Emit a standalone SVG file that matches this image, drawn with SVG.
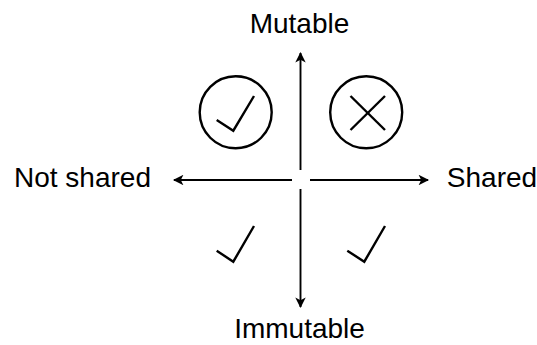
<svg xmlns="http://www.w3.org/2000/svg" width="537" height="345" viewBox="0 0 537 345">
<style>
.lbl{font-family:"Liberation Sans",Arial,sans-serif;font-size:28px;fill:#000;text-anchor:middle}
.ln{stroke:#000;stroke-width:1.9;fill:none}
.mk{stroke:#000;stroke-width:2.4;fill:none;stroke-linecap:butt;stroke-linejoin:miter}
</style>
<defs>
<marker id="ah" viewBox="0 0 10 10" refX="9" refY="5" markerWidth="6" markerHeight="5.5" markerUnits="strokeWidth" orient="auto">
<path d="M0,0 L10,5 L0,10 L2.5,5 Z" fill="#000"/>
</marker>
</defs>
<g id="connectors">
<line class="ln" x1="300.5" y1="170" x2="300.5" y2="53" marker-end="url(#ah)"/>
<line class="ln" x1="300.5" y1="189" x2="300.5" y2="307" marker-end="url(#ah)"/>
<line class="ln" x1="292" y1="180" x2="174" y2="180" marker-end="url(#ah)"/>
<line class="ln" x1="310" y1="180" x2="428" y2="180" marker-end="url(#ah)"/>
</g>
<g id="mutable"><text class="lbl" x="299.5" y="33">Mutable</text></g>
<g id="immutable"><text class="lbl" x="299.5" y="338">Immutable</text></g>
<g id="not-shared"><text class="lbl" x="82.5" y="187">Not shared</text></g>
<g id="shared"><text class="lbl" x="492" y="187">Shared</text></g>
<g id="mutable-not-shared">
<circle class="mk" cx="235.7" cy="112.3" r="36"/>
<polyline class="mk" points="216.7,120 233.3,130.7 254,96"/>
</g>
<g id="mutable-shared">
<circle class="mk" cx="366.2" cy="112.3" r="36"/>
<line class="mk" x1="350.5" y1="96" x2="385" y2="130"/>
<line class="mk" x1="385" y1="96" x2="350.5" y2="130"/>
</g>
<g id="immutable-not-shared">
<polyline class="mk" points="216.7,250.7 233.3,261.7 254,226"/>
</g>
<g id="immutable-shared">
<polyline class="mk" points="347.3,250.7 364.3,261.7 385,226"/>
</g>
</svg>
